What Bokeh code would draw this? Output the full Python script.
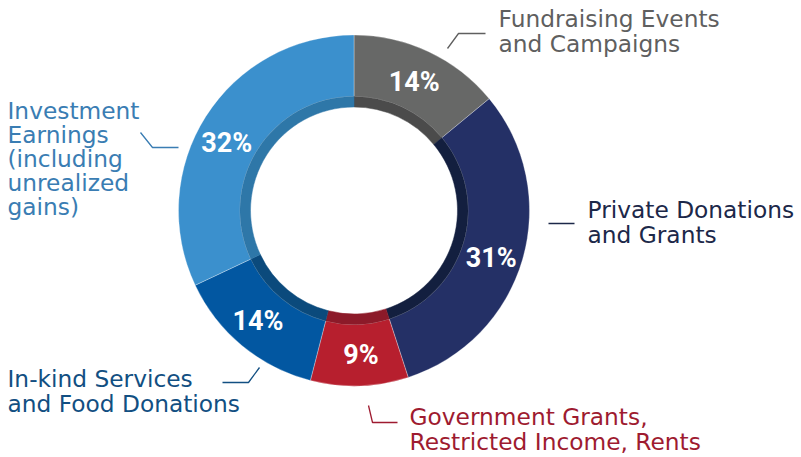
import math
from bokeh.plotting import figure
from bokeh.models import Range1d, ColumnDataSource
from bokeh.core.properties import value
from bokeh.embed import file_html
from bokeh.resources import INLINE

# ---- data ----
categories = ["Fundraising Events and Campaigns", "Private Donations and Grants",
              "Government Grants, Restricted Income, Rents",
              "In-kind Services and Food Donations",
              "Investment Earnings (including unrealized gains)"]
shares = [14, 31, 9, 14, 32]
pct_labels = ["14%", "31%", "9%", "14%", "32%"]
label_lines = [["Fundraising Events", "and Campaigns"],
               ["Private Donations", "and Grants"],
               ["Government Grants,", "Restricted Income, Rents"],
               ["In-kind Services", "and Food Donations"],
               ["Investment", "Earnings", "(including", "unrealized", "gains)"]]

# ---- styles ----
colors = ["#676867", "#243066", "#b71f2e", "#0257a1", "#3b90cd"]
ring_colors = ["#4b4b4b", "#131f3f", "#8c1a29", "#0b4a7c", "#2e77a8"]
text_colors = ["#5f5f5f", "#1c2849", "#9e1b30", "#124f82", "#3a7db3"]

# ---- layout (page pixels) ----
CX, CY = 353.5, 210.0
R_OUT, R_MID, R_IN = 175.5, 114.0, 103.5
R_LABEL = 146
pct_nudge = [(-2, 3.5), (-3, 6.5), (2.5, -1), (-3, -1.7), (-4, 11)]
BASE_SHIFT = -9
label_pos = [(498, 27), (587, 218), (409, 425), (7, 387), (7, 119)]
line_gap = [24.5, 25, 25, 24.5, 24]
leaders = [[(447, 48), (458, 33), (485, 33)],
           [(548, 223), (574, 223)],
           [(368, 405), (372, 422), (397, 422)],
           [(222, 382), (248, 382), (259, 367)],
           [(140, 132), (152, 147), (178, 147)]]

W, H = 801, 457
p = figure(width=W, height=H, output_backend="svg", toolbar_location=None,
           x_range=Range1d(0, W), y_range=Range1d(-H, 0),
           min_border=0, outline_line_color=None)
p.axis.visible = False
p.grid.visible = False
p.background_fill_color = "white"
p.border_fill_color = "white"

total = float(sum(shares))
starts, ends, mids = [], [], []
cum = 0.0
for s in shares:
    a0 = math.pi / 2 - 2 * math.pi * cum / total
    cum += s
    a1 = math.pi / 2 - 2 * math.pi * cum / total
    starts.append(a0)
    ends.append(a1)
    mids.append((a0 + a1) / 2)

src = ColumnDataSource(dict(start=starts, end=ends, color=colors, ring=ring_colors))
p.annular_wedge(x=CX, y=-CY, inner_radius=R_MID, outer_radius=R_OUT,
                start_angle="start", end_angle="end", direction="clock",
                fill_color="color", line_color="white", line_width=0.6, line_alpha=0.5,
                source=src)
p.annular_wedge(x=CX, y=-CY, inner_radius=R_IN, outer_radius=R_MID,
                start_angle="start", end_angle="end", direction="clock",
                fill_color="ring", line_color="ring", line_width=0.5, source=src)

# percent labels
px = [CX + R_LABEL * math.cos(m) + n[0] for m, n in zip(mids, pct_nudge)]
py = [-(CY - R_LABEL * math.sin(m) + n[1]) for m, n in zip(mids, pct_nudge)]
p.text(x=px, y=py, text=pct_labels, text_color="white",
       text_font=value("Roboto"), text_font_style="bold",
       text_font_size="27px", text_align="center", text_baseline="middle")

# category labels and leader lines
for i in range(len(categories)):
    x0, y0 = label_pos[i]
    xs = [x0] * len(label_lines[i])
    ys = [-(y0 + BASE_SHIFT + k * line_gap[i]) for k in range(len(label_lines[i]))]
    p.text(x=xs, y=ys, text=label_lines[i], text_color=text_colors[i],
           text_font=value("DejaVu Sans"), text_font_size="23.3px",
           text_align="left", text_baseline="alphabetic")
    lx = [pt[0] for pt in leaders[i]]
    ly = [-pt[1] for pt in leaders[i]]
    p.line(lx, ly, line_color=text_colors[i], line_width=1.3)

open("out.html", "w").write(file_html(p, INLINE))
